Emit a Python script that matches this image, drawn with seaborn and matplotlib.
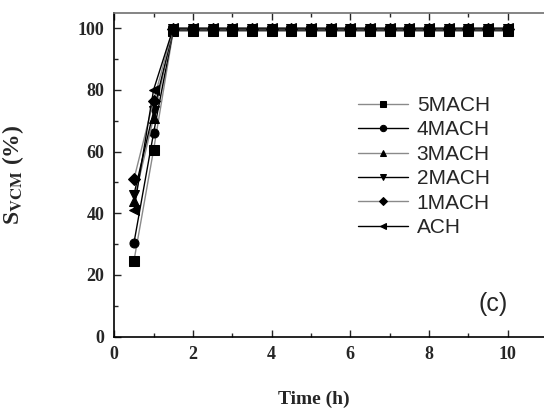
import matplotlib
matplotlib.use("Agg")
import matplotlib.pyplot as plt
from matplotlib.ticker import MultipleLocator
import numpy as np
import pandas as pd
import seaborn as sns

sns.set_style("ticks")

# data
time_h = [0.5, 1.0, 1.5, 2.0, 2.5, 3.0, 3.5, 4.0, 4.5, 5.0, 5.5, 6.0, 6.5,
          7.0, 7.5, 8.0, 8.5, 9.0, 9.5, 10.0]
series_names = ["5MACH", "4MACH", "3MACH", "2MACH", "1MACH", "ACH"]
start_5mach = [24.5, 60.5]
start_4mach = [30.3, 66.0]
start_3mach = [44.0, 71.0]
start_2mach = [46.0, 73.0]
start_1mach = [51.0, 76.5]
start_ach = [41.0, 80.0]
plateau = {"5MACH": 99.0, "4MACH": 99.3, "3MACH": 99.5,
           "2MACH": 99.6, "1MACH": 99.8, "ACH": 100.0}

starts = dict(zip(series_names, [start_5mach, start_4mach, start_3mach,
                                 start_2mach, start_1mach, start_ach]))
rows = []
for name in series_names:
    vals = starts[name] + [plateau[name]] * (len(time_h) - 2)
    for t, v in zip(time_h, vals):
        rows.append({"Time": t, "S": v, "sample": name})
df = pd.DataFrame(rows)

line_colors = {"5MACH": "#8a8a8a", "4MACH": "black", "3MACH": "#8a8a8a",
               "2MACH": "black", "1MACH": "#8a8a8a", "ACH": "black"}
marker_map = {"5MACH": "s", "4MACH": "o", "3MACH": "^",
              "2MACH": "v", "1MACH": "D", "ACH": "<"}

fig = plt.figure(figsize=(5.44, 4.09), dpi=100)
ax = fig.add_axes([0.210, 0.177, 0.7955, 0.792])

sns.lineplot(data=df, x="Time", y="S", hue="sample", style="sample",
             hue_order=series_names, style_order=series_names,
             palette=line_colors, markers=marker_map, dashes=False,
             markersize=6.5, markeredgecolor="black", linewidth=1.0, ax=ax)
for ln in ax.lines:
    ln.set_markerfacecolor("black")
    ln.set_markeredgecolor("black")

ax.set_xlim(0, 11)
ax.set_ylim(0, 105)
ax.xaxis.set_major_locator(MultipleLocator(2))
ax.xaxis.set_minor_locator(MultipleLocator(1))
ax.yaxis.set_major_locator(MultipleLocator(20))
ax.yaxis.set_minor_locator(MultipleLocator(10))
ax.tick_params(which="both", direction="in", top=True, right=False)
ax.tick_params(which="major", length=5, width=1, pad=7)
ax.tick_params(which="minor", length=3, width=1)
for lab in ax.get_xticklabels() + ax.get_yticklabels():
    lab.set_fontfamily("Liberation Serif")
    lab.set_fontweight("bold")
    lab.set_fontsize(13)

ax.spines["left"].set_color("black")
ax.spines["bottom"].set_color("black")
ax.spines["top"].set_color("#707070")
for s in ax.spines.values():
    s.set_linewidth(1.2)

ax.set_xlabel("Time (h)", fontfamily="Liberation Serif", fontweight="bold", fontsize=14)
ax.set_ylabel(r"S$_{\mathbf{VCM}}$ (%)", fontfamily="Liberation Serif",
              fontweight="bold", fontsize=17, math_fontfamily="stix")
ax.xaxis.set_label_coords(0.462, -0.168)
ax.yaxis.set_label_coords(-0.205, 0.5)

handles, labels = ax.get_legend_handles_labels()
ax.legend(handles, labels, loc="upper left", bbox_to_anchor=(0.54, 0.775),
          frameon=False, borderpad=0, labelspacing=0.26, handlelength=2.4,
          handletextpad=0.4, markerscale=0.7,
          prop={"family": "Liberation Sans", "size": 15})

ax.text(0.875, 0.10, "(c)", transform=ax.transAxes, ha="center", va="center",
        fontfamily="Liberation Sans", fontsize=18)

fig.savefig("out.png", dpi=100)
